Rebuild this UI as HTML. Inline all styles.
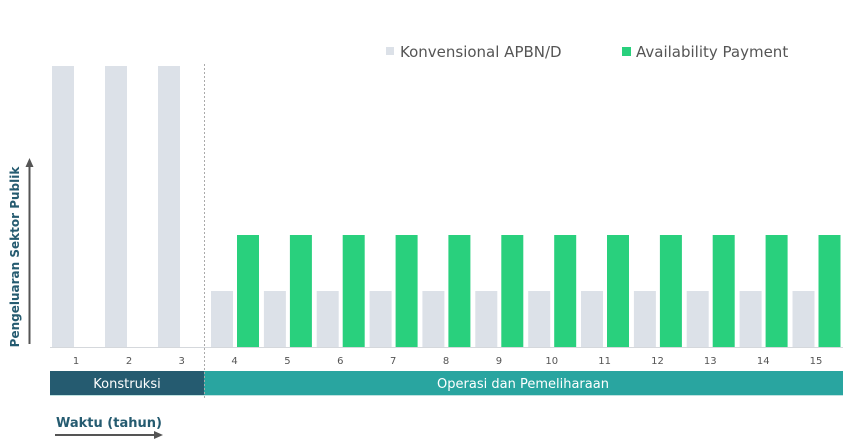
<!DOCTYPE html>
<html><head><meta charset="utf-8"><style>
html,body{margin:0;padding:0;background:#fff;width:843px;height:442px;overflow:hidden}
text{font-family:"DejaVu Sans","Liberation Sans",sans-serif}
</style></head><body>
<svg width="843" height="442" xmlns="http://www.w3.org/2000/svg">
<g fill="#dce1e8">
<rect x="52" y="66" width="22" height="281"/>
<rect x="105" y="66" width="22" height="281"/>
<rect x="158" y="66" width="22" height="281"/>
<rect x="211" y="291" width="22" height="56"/>
<rect x="263.9" y="291" width="22" height="56"/>
<rect x="316.7" y="291" width="22" height="56"/>
<rect x="369.6" y="291" width="22" height="56"/>
<rect x="422.4" y="291" width="22" height="56"/>
<rect x="475.3" y="291" width="22" height="56"/>
<rect x="528.2" y="291" width="22" height="56"/>
<rect x="581" y="291" width="22" height="56"/>
<rect x="633.9" y="291" width="22" height="56"/>
<rect x="686.7" y="291" width="22" height="56"/>
<rect x="739.6" y="291" width="22" height="56"/>
<rect x="792.5" y="291" width="22" height="56"/>
</g>
<g fill="#29d07d">
<rect x="237" y="235" width="22" height="112"/>
<rect x="289.9" y="235" width="22" height="112"/>
<rect x="342.7" y="235" width="22" height="112"/>
<rect x="395.6" y="235" width="22" height="112"/>
<rect x="448.4" y="235" width="22" height="112"/>
<rect x="501.3" y="235" width="22" height="112"/>
<rect x="554.2" y="235" width="22" height="112"/>
<rect x="607" y="235" width="22" height="112"/>
<rect x="659.9" y="235" width="22" height="112"/>
<rect x="712.7" y="235" width="22" height="112"/>
<rect x="765.6" y="235" width="22" height="112"/>
<rect x="818.5" y="235" width="22" height="112"/>
</g>
<line x1="50" y1="347.5" x2="843" y2="347.5" stroke="#d5d8dc" stroke-width="1"/>
<g font-size="10" fill="#555" text-anchor="middle">
<text x="76" y="364">1</text><text x="129" y="364">2</text><text x="181.7" y="364">3</text>
<text x="234.6" y="364">4</text><text x="287.4" y="364">5</text><text x="340.3" y="364">6</text>
<text x="393.2" y="364">7</text><text x="446" y="364">8</text><text x="498.9" y="364">9</text>
<text x="551.7" y="364">10</text><text x="604.6" y="364">11</text><text x="657.5" y="364">12</text>
<text x="710.3" y="364">13</text><text x="763.2" y="364">14</text><text x="816" y="364">15</text>
</g>
<rect x="50" y="371" width="154" height="24" fill="#255b70"/>
<rect x="204" y="371" width="639" height="24" fill="#29a5a0"/>
<line x1="50" y1="395.5" x2="843" y2="395.5" stroke="#bfe3e1" stroke-width="1"/>
<text x="127" y="388" font-size="13" fill="#fff" text-anchor="middle">Konstruksi</text>
<text x="523" y="388" font-size="13" fill="#fff" text-anchor="middle">Operasi dan Pemeliharaan</text>
<line x1="204.5" y1="64" x2="204.5" y2="398" stroke="#aaa" stroke-width="1" stroke-dasharray="2,2"/>
<rect x="386" y="47" width="8" height="8" fill="#dce1e8"/>
<text x="400" y="57" font-size="15" fill="#555">Konvensional APBN/D</text>
<rect x="622" y="47" width="9" height="9" fill="#29d07d"/>
<text x="636" y="57" font-size="15" fill="#555">Availability Payment</text>
<line x1="29.5" y1="166" x2="29.5" y2="344" stroke="#555" stroke-width="2"/>
<polygon points="29.5,158 25.5,167 33.5,167" fill="#555"/>
<text transform="translate(19,257) rotate(-90)" font-size="12" font-weight="bold" fill="#255b70" text-anchor="middle">Pengeluaran Sektor Publik</text>
<text x="56" y="427" font-size="13" font-weight="bold" fill="#255b70">Waktu (tahun)</text>
<line x1="55" y1="435" x2="156" y2="435" stroke="#555" stroke-width="2"/>
<polygon points="163,435 154,431 154,439" fill="#555"/>
</svg>
</body></html>
